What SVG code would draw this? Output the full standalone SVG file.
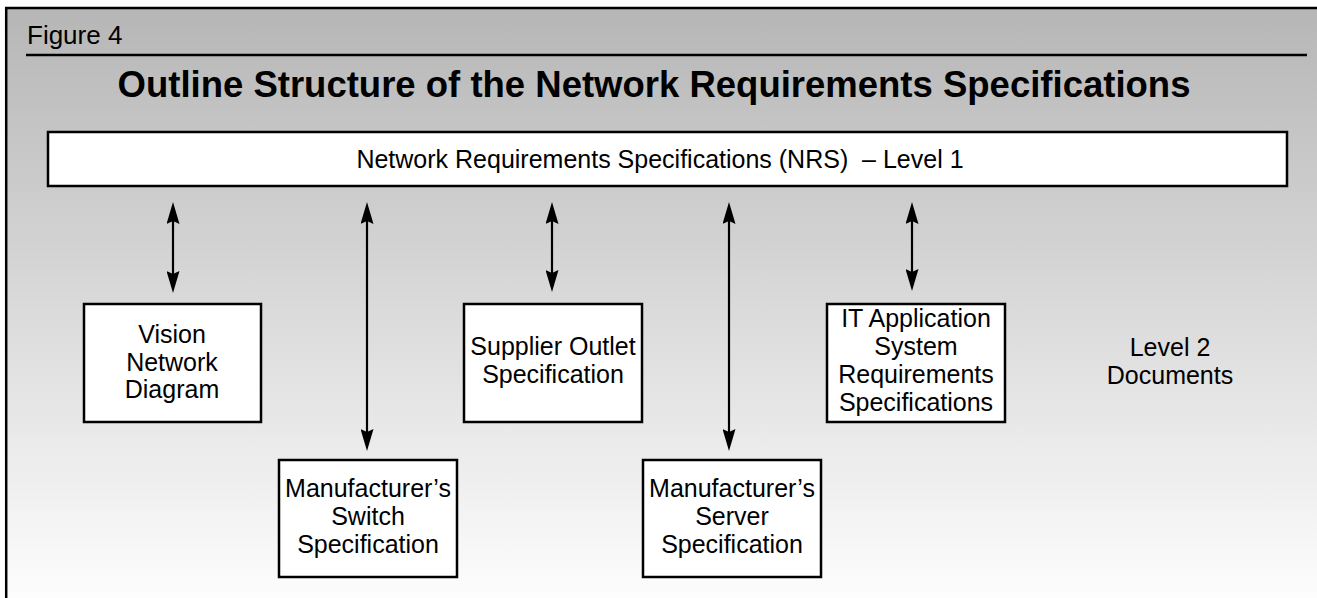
<svg xmlns="http://www.w3.org/2000/svg" width="1317" height="598" viewBox="0 0 1317 598">
<style>
text{font-family:"Liberation Sans",Arial,sans-serif;fill:#000}
.t{font-size:25px;text-anchor:middle}
.box{fill:#fff;stroke:#000;stroke-width:2.5}
.conn{stroke:#000;stroke-width:2.2;fill:none;marker-start:url(#ah);marker-end:url(#ah)}
</style>
<defs>
<linearGradient id="bg" x1="0" y1="0" x2="0" y2="1">
<stop offset="0" stop-color="#b6b6b6"/>
<stop offset="1" stop-color="#fdfdfd"/>
</linearGradient>
<marker id="ah" viewBox="0 0 22 13" refX="10" refY="6.5" markerWidth="22" markerHeight="13" markerUnits="userSpaceOnUse" orient="auto-start-reverse">
<path d="M0,0 L22,6.5 L0,13 L3,6.5 z" fill="#000"/>
</marker>
</defs>
<rect x="7" y="8" width="1310" height="590" fill="url(#bg)"/>
<line x1="5" y1="8" x2="1317" y2="8" stroke="#000" stroke-width="2.5"/>
<line x1="6.2" y1="7" x2="6.2" y2="598" stroke="#000" stroke-width="2.5"/>
<g id="header">
<text x="27" y="44" font-size="26">Figure 4</text>
<line x1="26" y1="55" x2="1307" y2="55" stroke="#000" stroke-width="2.5"/>
<text x="654" y="97" font-size="36.5" font-weight="bold" text-anchor="middle">Outline Structure of the Network Requirements Specifications</text>
</g>
<g id="connectors">
<line class="conn" x1="173" y1="214" x2="173" y2="281"/>
<line class="conn" x1="367" y1="214" x2="367" y2="439"/>
<line class="conn" x1="552" y1="214" x2="552" y2="280"/>
<line class="conn" x1="729" y1="214" x2="729" y2="439"/>
<line class="conn" x1="912" y1="214" x2="912" y2="279"/>
</g>
<g id="nrs">
<rect class="box" x="48" y="132" width="1239" height="54"/>
<text class="t" x="660" y="168" xml:space="preserve">Network Requirements Specifications (NRS)  – Level 1</text>
</g>
<g id="vision">
<rect class="box" x="84" y="304" width="177" height="118"/>
<text class="t" x="172" y="343">Vision</text>
<text class="t" x="172" y="371">Network</text>
<text class="t" x="172" y="398">Diagram</text>
</g>
<g id="switch">
<rect class="box" x="279" y="460" width="178" height="117"/>
<text class="t" x="368" y="497">Manufacturer’s</text>
<text class="t" x="368" y="525">Switch</text>
<text class="t" x="368" y="553">Specification</text>
</g>
<g id="supplier">
<rect class="box" x="464" y="304" width="178" height="118"/>
<text class="t" x="553" y="355">Supplier Outlet</text>
<text class="t" x="553" y="383">Specification</text>
</g>
<g id="server">
<rect class="box" x="643" y="460" width="178" height="117"/>
<text class="t" x="732" y="497">Manufacturer’s</text>
<text class="t" x="732" y="525">Server</text>
<text class="t" x="732" y="553">Specification</text>
</g>
<g id="itapp">
<rect class="box" x="827" y="304" width="178" height="118"/>
<text class="t" x="916" y="327">IT Application</text>
<text class="t" x="916" y="355">System</text>
<text class="t" x="916" y="383">Requirements</text>
<text class="t" x="916" y="411">Specifications</text>
</g>
<g id="level2">
<text class="t" x="1170" y="356">Level 2</text>
<text class="t" x="1170" y="384">Documents</text>
</g>
</svg>
